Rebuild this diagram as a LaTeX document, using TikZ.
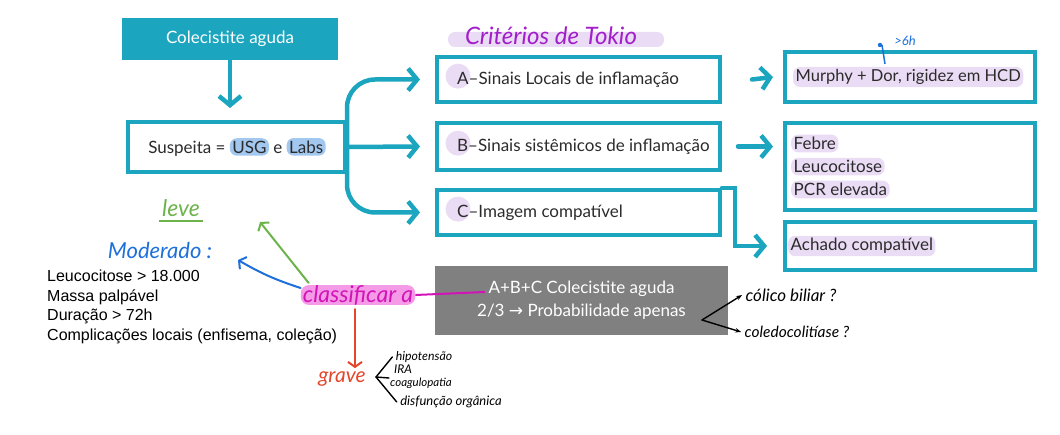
\documentclass[tikz,border=0pt]{standalone}
\usepackage{fontspec}
\setmainfont{Lato}
\newfontfamily\listfont{Liberation Sans}
\newfontfamily\symfont{DejaVu Sans}
\usetikzlibrary{arrows.meta,positioning}

\definecolor{tealc}{HTML}{1BA5BE}
\definecolor{grayc}{HTML}{808080}
\definecolor{lav}{HTML}{EADCF4}
\definecolor{hlblue}{HTML}{A3C8F0}
\definecolor{pinkhl}{HTML}{F49AE6}
\definecolor{magc}{HTML}{D113B8}
\definecolor{purc}{HTML}{A21ECB}
\definecolor{greenc}{HTML}{6CB34A}
\definecolor{bluec}{HTML}{1E6FDA}
\definecolor{redc}{HTML}{E4462B}
\definecolor{inkc}{HTML}{2B2B2B}

% marca-texto atras de uma palavra
\newcommand{\hl}[3]{\tikz[baseline=(#1.base)]\node[fill=#2,rounded corners=7pt,inner xsep=2.5pt,inner ysep=2.5pt] (#1) {#3};}
% bolinha atras da letra
\newcommand{\hlc}[2]{\tikz[baseline=(#1.base)]{\fill[lav,overlay] (1pt,2pt) circle (12.5pt); \node[inner sep=0pt] (#1) {#2};}}
\newcommand{\hw}[1]{\itshape\fontsize{#1}{#1}\selectfont}

\tikzset{
  box/.style={draw=tealc,line width=4pt},
  txt/.style={inner sep=0pt,text=inkc,font=\fontsize{17}{23}\selectfont},
  conn/.style={draw=tealc,line width=4.5pt,line cap=round,-{Straight Barb[length=9pt,width=22pt]}},
  pen/.style={draw=black,line width=1.4pt,line cap=round},
}

\begin{document}
\begin{tikzpicture}[x=1pt,y=-1pt]
\useasboundingbox (0,0) rectangle (1060,435);
% coluna da esquerda
\node[fill=tealc,minimum width=216pt,minimum height=42pt,text=white,font=\fontsize{17}{20}\selectfont] (cole) at (230,39) {Colecistite aguda};
\node[box,minimum width=217pt,minimum height=50pt] (sus) at (236.5,147) {};
\node[txt] (sustxt) at (237,147) {Suspeita = \hl{usg}{hlblue}{USG} e \hl{labs}{hlblue}{Labs}};
\draw[conn,shorten >=12pt] (cole.south) -- (cole.south |- sus.north);
%
% criterios
\node[fill=lav,rounded corners=7pt,minimum width=216pt,minimum height=15pt,inner sep=0pt] (tokhl) at (556,39.5) {};
\node[text=purc,font=\hw{24}] (tok) at (551,36) {Critérios de Tokio};
\node[box,minimum width=283pt,minimum height=45pt] (A) at (578.5,79.5) {};
\node[box,minimum width=283pt,minimum height=47pt] (B) at (578.5,146.5) {};
\node[box,minimum width=283pt,minimum height=45pt] (C) at (578.5,212.5) {};
\node[txt,anchor=west] (Atxt) at ([xshift=22pt]A.west) {\hlc{la}{A}–Sinais Locais de inflamação};
\node[txt,anchor=west] (Btxt) at ([xshift=22pt]B.west) {\hlc{lb}{B}–Sinais sistêmicos de inflamação};
\node[txt,anchor=west] (Ctxt) at ([xshift=22pt]C.west) {\hlc{lc}{C}–Imagem compatível};
\draw[conn,rounded corners=28pt] (sus.east) |- ([xshift=-15pt]A.west);
\draw[conn] (sus.east) -- ([xshift=-15pt]B.west);
\draw[conn,rounded corners=28pt] (sus.east) |- ([xshift=-15pt]C.west);
%
% achados
\node[box,minimum width=250pt,minimum height=50pt] (murphy) at (910,77) {};
\node[box,minimum width=250pt,minimum height=87pt] (febre) at (910,166.5) {};
\node[box,minimum width=250pt,minimum height=48pt] (achado) at (910,246) {};
\node[txt,anchor=west,font=\fontsize{16.5}{23}\selectfont] (murphytxt) at ([xshift=10pt]murphy.west) {\hl{mu}{lav}{Murphy + Dor, rigidez em HCD}};
\node[txt,anchor=west,align=left] (febretxt) at ([xshift=8pt]febre.west) {\hl{fe}{lav}{Febre}\\\hl{le}{lav}{Leucocitose}\\\hl{pc}{lav}{PCR elevada}};
\node[txt,anchor=west] (achadotxt) at ([xshift=5pt]achado.west) {\hl{ac}{lav}{Achado compatível}};
\draw[conn] ([xshift=30pt]A.east) -- ([xshift=-10pt]murphy.west);
\draw[conn] ([xshift=16pt]B.east) -- ([xshift=-10pt]B.east -| febre.west);
\draw[conn] (C.north east) -- ++(13,0) |- ([xshift=-16pt]achado.west);
\node[text=bluec,font=\hw{13}] (seis) at (905,41) {>6h};
\draw[bluec,line width=1.5pt] (882,45) -- (885,64);
\fill[bluec] (880,45) circle (2.2pt);
%
% resultado
\node[fill=grayc,minimum width=293pt,minimum height=69pt,text=white,align=center,font=\fontsize{17}{23}\selectfont] (abc) at (581.5,300.5) {A+B+C Colecistite aguda\\2/3 {\symfont →} Probabilidade apenas};
\coordinate (abcin) at (485,292);
\coordinate (cv) at (702,320);
\node[font=\hw{17}] (cb) at (791,295) {cólico biliar ?};
\node[font=\hw{15.5}] (cd) at (797,332) {coledocolitíase ?};
\draw[pen,-{Stealth[length=6pt]}] (cv) -- (cb.west);
\draw[pen,-{Stealth[length=6pt]}] (cv) -- (cd.west);
%
% classificacao
\node[fill=pinkhl,rounded corners=8pt,inner xsep=2pt,inner ysep=0pt,text=magc,font=\hw{23}] (clas) at (358,295) {classificar a};
\draw[magc,line width=2pt] (clas.east) -- (abcin);
\node[text=greenc,font=\hw{23}] (leve) at (181,208) {leve};
\draw[greenc,line width=1.5pt] ([yshift=-1pt]leve.south west) -- ([yshift=-1pt]leve.south east);
\node[text=bluec,font=\hw{22}] (mod) at (160,250) {Moderado :};
\node[anchor=north west,align=left,inner sep=0pt,font=\listfont\fontsize{16}{19.5}\selectfont] (lista) at (47,270) {Leucocitose > 18.000\\Massa palpável\\Duração > 72h\\Complicações locais (enfisema, coleção)};
\coordinate (greentip) at (260,222);
\coordinate (bluetip) at (238,260);
\draw[greenc,line width=2pt,line cap=round,-{Straight Barb[length=5pt,width=14pt]}] ([xshift=8pt,yshift=2pt]clas.north west) -- (greentip);
\draw[bluec,line width=2pt,line cap=round,-{Straight Barb[length=5pt,width=14pt]}] ([yshift=7pt]clas.west) to[bend left=6] (bluetip);
\node[text=redc,font=\hw{21}] (grave) at (342,379) {grave};
\draw[redc,line width=2pt,line cap=round,shorten <=4pt,-{Straight Barb[length=5pt,width=14pt]}] ([xshift=-3pt]clas.south) -- ([xshift=13pt]grave.north);
\node[font=\hw{12.3}] (hip) at (424,357) {hipotensão};
\node[font=\hw{12}] (ira) at (403,369) {IRA};
\node[font=\hw{11.5}] (coag) at (421,383) {coagulopatia};
\node[font=\hw{13}] (disf) at (451,402) {disfunção orgânica};
\coordinate (gv) at (376,377);
\draw[pen] (hip.west) -- (gv) -- (disf.west);
\draw[pen] (gv) -- ++(13,1);
\end{tikzpicture}
\end{document}
